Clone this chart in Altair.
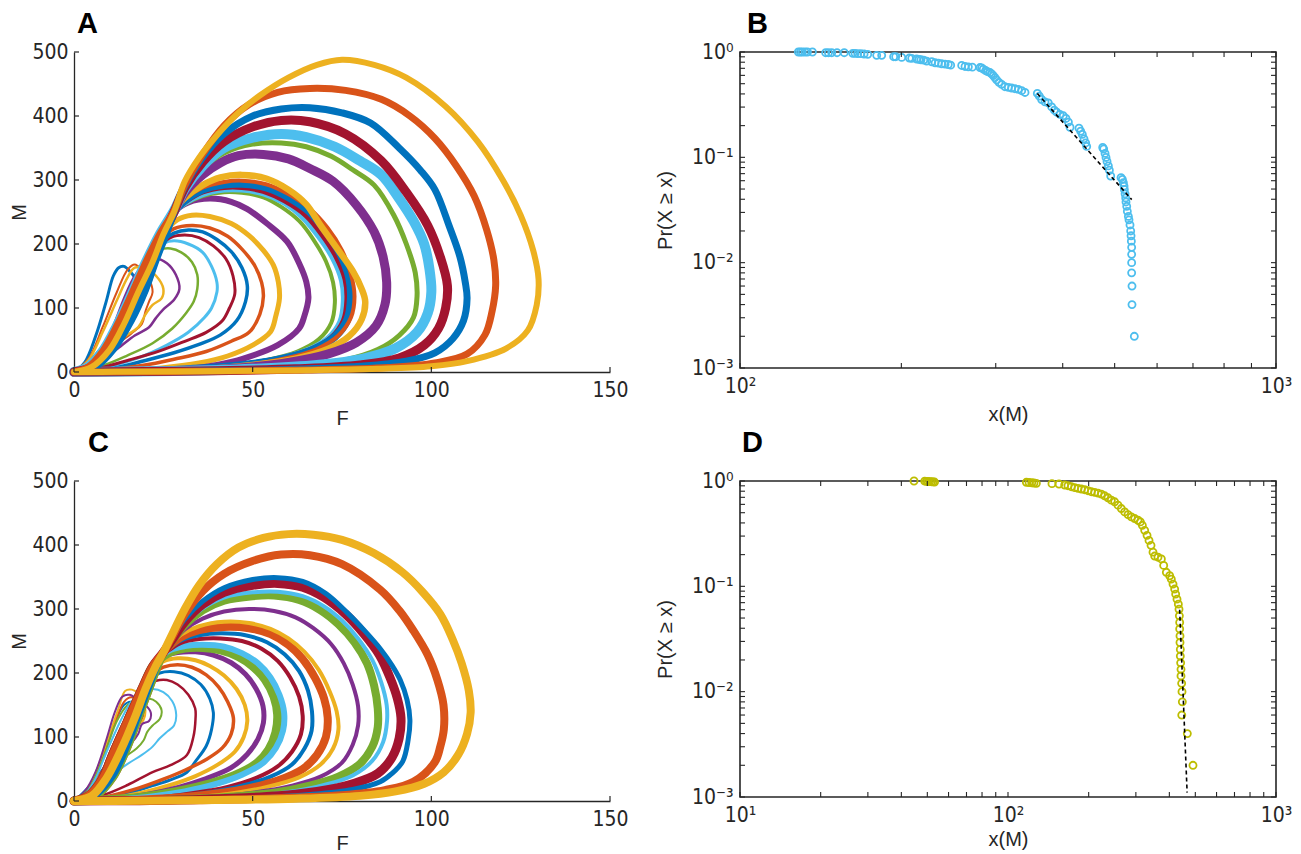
import altair as alt
import pandas as pd

BLUE = "#0072BD"; ORANGE = "#D95319"; YELLOW = "#EDB120"; PURPLE = "#7E2F8E"
GREEN = "#77AC30"; LBLUE = "#4DBEEE"; DRED = "#A2142F"
AX = "#262626"
NUM_FONT = "Liberation Sans Narrow, DejaVu Sans Condensed, Roboto, sans-serif"
TXT_FONT = "Liberation Sans, Arial, sans-serif"

# ---------------- Panel A : limit cycles (F, M), inner loops first ----------------
RB1 = [(0, 0), (4, 8), (8, 32), (12, 72), (16, 120), (20, 170), (24, 215), (28, 252)]
RB2 = [(0, 0), (5, 8), (10, 35), (14, 75), (18, 125), (22, 172), (25, 215), (28, 250)]
RB3 = [(0, 0), (6, 8), (11, 35), (16, 80), (20, 128), (23, 175), (26, 218), (28, 250)]

A_LOOPS = [
    (BLUE, 3, [(0,0),(3,15),(6,55),(9,110),(11,150),(12.5,163),(14,165),(16,155),(18,140),(20,125),(19,115),(17,110),(15,95),(12,70),(8,40),(4,15),(0,0)]),
    (ORANGE, 2, [(0,0),(4,20),(8,70),(12,125),(15,160),(17,168),(19,160),(21,145),(22,125),(21,110),(20,95),(19,75),(16,60),(11,40),(5,15),(0,0)]),
    (YELLOW, 2.5, [(0,0),(4,18),(8,62),(12,112),(15,148),(17,163),(20,162),(23,150),(25,130),(24.5,115),(22,105),(20,90),(18,70),(14,55),(10,40),(5,15),(0,0)]),
    (PURPLE, 2.5, [(0,0),(3,8),(7,32),(11,72),(14,115),(17,150),(20,170),(23,177),(26,170),(28.5,152),(29.5,130),(28,113),(25,98),(23,85),(21,70),(17,57),(13,40),(8,20),(4,7),(0,0)]),
    (GREEN, 2.5, [(0,0),(4,8),(8,32),(12,72),(15,112),(18,150),(21,180),(24,191),(27,193),(30,187),(33,172),(34.5,152),(34.5,130),(33.5,110),(31.5,93),(27.5,68),(22,45),(15,26),(8,10),(0,0)]),
    (LBLUE, 3, [(0,0),(4,8),(8,32),(12,70),(16,115),(19,155),(22,188),(25,201),(28,205),(32,200),(36,187),(38.5,165),(40,140),(40,125),(38.5,100),(36.5,85),(32,62),(26,42),(18,22),(9,8),(0,0)]),
    (DRED, 3, [(0,0),(4,8),(8,32),(12,70),(16,115),(20,160),(24,196),(27,210),(31,214),(35,210),(39,197),(42.5,177),(44.5,150),(45,122),(43.5,100),(41.5,80),(37,62),(31,48),(24,33),(15,18),(7,6),(0,0)]),
    (BLUE, 3.5, [(0,0),(4,8),(8,32),(12,70),(16,115),(20,162),(24,200),(28,217),(32,222),(36,219),(40,207),(44,188),(47,163),(48.5,135),(48,110),(45.5,80),(41,58),(35,43),(28,30),(20,18),(11,6),(0,0)]),
    (ORANGE, 3.5, [(0,0),(4,8),(8,32),(12,70),(16,115),(20,162),(24,205),(28,224),(33,229),(38,225),(43,212),(47,192),(50.5,167),(52.5,140),(53,118),(52,90),(49,62),(44,48),(37,32),(28,20),(19,10),(9,3),(0,0)]),
    (YELLOW, 5, [(0,0),(4,8),(8,32),(13,75),(17,120),(21,170),(25,215),(29,238),(33,245),(38,243),(44,232),(49,213),(53,190),(55.8,167),(57.2,140),(57.5,115),(56.5,88),(55,63),(50,42),(43,25),(35,14),(24,6),(12,1.5),(0,0)]),
    (PURPLE, 6, [(0,0),(4,8),(8,32),(13,75),(17,120),(21,170),(25,220),(28,250),(32,265),(38,271),(44,266),(48.4,255),(54,232),(59.6,204),(63,170),(65,141),(65.6,115),(64.5,88),(63,68),(57,42),(47.4,21),(40,11),(33,5.5),(20,2),(0,0)]),
    (GREEN, 4, RB2 + [(31,262),(36,275),(42,281),(47,280),(53,273),(58,258),(63,236),(67,207),(70.5,173),(72.5,140),(73,108),(72,77),(68.5,51),(62.5,32),(54,19),(42,9),(28,3),(14,1),(0,0)]),
    (LBLUE, 6, RB3 + [(31,264),(36,278),(42,285),(47,285),(53,279),(59,264),(64,242),(68.5,212),(72.5,178),(75,143),(75.5,110),(74.5,78),(71,52),(65,33),(56,19),(44,9),(29,3),(14,1),(0,0)]),
    (DRED, 6, RB1 + [(31,266),(36,282),(42,289),(47,289),(53,283),(59,268),(65,245),(69.5,215),(73.5,180),(76,145),(76.5,112),(75.5,80),(72,53),(66,34),(57,20),(45,10),(30,4),(15,1),(0,0)]),
    (BLUE, 8, RB2 + [(31,268),(36,285),(42,293),(47,294),(54,288),(60,273),(66,250),(70.5,220),(74.5,185),(77,148),(77.5,115),(76.5,82),(73,55),(67,35),(58,20),(46,10),(31,4),(15,1),(0,0)]),
    (ORANGE, 4, RB3 + [(31,270),(36,288),(42,297),(47,299),(54,293),(60,278),(66,255),(71,225),(75,190),(77.5,153),(78.5,118),(77.5,85),(74,57),(68,36),(59,21),(47,10),(32,4),(16,1),(0,0)]),
    (YELLOW, 6.5, RB1 + [(31,272),(36,292),(41,304),(47,308),(54,302),(60,285),(65,262),(69,229),(74,190),(78,158),(80.5,130),(81.5,110),(80.5,82),(77,56),(71,36),(62,21),(50,11),(35,4),(18,1),(0,0)]),
    (PURPLE, 9, RB2 + [(31,280),(36,308),(41,327),(46,338),(53,340),(60,333),(66,318),(72.5,298),(79,261),(84,219),(86.5,180),(87.5,140),(87,105),(84.5,72),(79,46),(71,28),(60,15),(45,6),(25,2),(0,0)]),
    (GREEN, 5, RB3 + [(31,284),(36,318),(42,342),(50,356),(58,358),(65,352),(72,337),(78,316),(84,292),(89.5,245),(93,200),(95.5,155),(96,118),(95,85),(91,57),(85,35),(76,19),(62,9),(42,3),(20,1),(0,0)]),
    (LBLUE, 10, RB1 + [(31,286),(36,322),(42,350),(50,366),(58,372),(65,367),(73,352),(80,330),(86,308),(91,271),(95,236),(98,200),(99.5,160),(100,125),(99,92),(96,62),(90,37),(81,21),(68,11),(50,5),(28,1.5),(0,0)]),
    (DRED, 9, RB2 + [(31,288),(36,328),(42,360),(50,383),(58,393),(66,391),(76,372),(86,330),(93,281),(99,229),(102.5,180),(104.5,135),(104,100),(102,68),(98,42),(91,22),(80,11),(62,5),(35,1.5),(0,0)]),
    (BLUE, 7, RB3 + [(31,290),(36,335),(42,372),(50,400),(58,411),(66,413),(75,405),(83,389),(91,350),(97,315),(101,285),(105,228),(108,180),(109.5,140),(110,115),(109,80),(106,52),(101,30),(93,17),(80,9),(60,4),(32,1),(0,0)]),
    (ORANGE, 7, RB1 + [(31,292),(36,340),(42,385),(49,418),(57,437),(66,443),(76,440),(86,426),(94,400),(101,365),(107,322),(112,275),(115.5,222),(117.5,175),(118,135),(117,95),(115,58),(110,28),(101,14),(88,7),(65,3),(35,1),(0,0)]),
    (YELLOW, 6, RB2 + [(31,298),(35,335),(40,370),(46,405),(52,432),(60,460),(68,480),(75,488),(84,480),(93,460),(104,415),(113,360),(120,300),(125,245),(128.5,190),(130,145),(129.5,105),(127,65),(121,37),(110,17),(100,9),(85,5),(60,2.5),(35,1),(12,0.3),(0,0)]),
]

# ---------------- Panel C : limit cycles (F, M), inner loops first ----------------
RC1 = [(0, 0), (4, 8), (8, 35), (11, 75), (15, 125), (19, 175), (22, 210), (25, 232)]
RC2 = [(0, 0), (5, 8), (9, 35), (13, 78), (17, 130), (20, 175), (23, 212), (25, 232)]
RC3 = [(0, 0), (6, 8), (11, 38), (15, 85), (18, 130), (21, 175), (23.5, 212), (25, 232)]

C_LOOPS = [
    (BLUE, 2, [(0,0),(3,12),(6,40),(9,85),(12,130),(14,150),(16,155),(17.5,145),(18,132),(16.5,120),(14,100),(11,75),(8,50),(4,22),(0,0)]),
    (ORANGE, 2, [(0,0),(3,12),(6,40),(9,85),(12,130),(14,155),(16,162),(18,155),(19.5,140),(19,128),(17,118),(15,100),(12,80),(9,55),(5,28),(2,8),(0,0)]),
    (YELLOW, 2, [(5,30),(7.5,65),(10,105),(12.5,145),(14.3,172),(16.2,174),(18,168),(19.5,155),(20,140),(19.5,127),(18,118),(16.5,105),(14.5,88),(12,70),(9,50),(6,28),(3,10),(0,0)]),
    (PURPLE, 2, [(0,0),(3,15),(6,45),(9,95),(11.5,140),(13.5,163),(15.5,166),(18,158),(20,150),(21.5,138),(21,125),(19,120),(18,105),(16,90),(13,75),(10,55),(6,30),(3,12),(0,0)]),
    (GREEN, 2, [(0,0),(3,10),(6,38),(9,80),(12,125),(15,150),(18,158),(21,160),(23,155),(24.5,142),(24,128),(22,118),(20.5,108),(19.5,95),(17.5,82),(14.5,70),(11,55),(7,35),(3,12),(0,0)]),
    (LBLUE, 2, [(0,0),(3,10),(6,35),(9,75),(13,125),(16,155),(19,170),(22,175),(25,170),(27.5,156),(28.6,135),(28,118),(26,108),(24,98),(22,85),(19,72),(15,58),(10,38),(5,15),(0,0)]),
    (DRED, 2.5, [(0,0),(4,10),(7,35),(10,75),(14,125),(17,160),(20,180),(23,188),(26,189),(29,182),(32,166),(33.9,145),(34,128),(33.4,100),(31.6,72),(27,56),(22,45),(15,25),(8,9),(0,0)]),
    (BLUE, 3, [(0,0),(4,8),(8,35),(11,75),(15,125),(18,165),(21,190),(24,200),(28,202),(32,196),(35.5,182),(38,160),(39,138),(38.5,112),(37,86),(34,62),(31.6,45),(27,33),(22,24),(13,9),(6,3),(0,0)]),
    (ORANGE, 3.5, [(0,0),(4,8),(8,35),(11,75),(15,125),(19,172),(22,198),(25,209),(29,213),(33,209),(37,197),(40.5,178),(43,155),(44.6,130),(44,105),(41.5,83),(37,65),(31,48),(25,34),(18,20),(10,8),(0,0)]),
    (YELLOW, 4, [(0,0),(4,8),(8,35),(11,75),(15,125),(19,175),(22,205),(25,218),(29,223),(34,220),(38,211),(42,196),(45.5,175),(47.8,150),(48.5,125),(47.5,100),(45,77),(40,56),(34,39),(27,25),(19,13),(10,4),(0,0)]),
    (PURPLE, 5, [(0,0),(4,8),(8,35),(11,75),(15,125),(19,175),(22,208),(25,225),(29,232),(34,233),(39,228),(44,216),(48,198),(51,175),(52.9,148),(53,122),(51.5,97),(48.5,73),(44,52),(37,35),(29,21),(20,10),(10,3),(0,0)]),
    (GREEN, 9, RC1[:-1] + [(24,222),(27,233),(31,239),(36,240),(41,236),(46,226),(50,211),(53.5,190),(56,163),(57,135),(56.5,107),(54.5,80),(51,58),(45,40),(38,27),(29,15),(19,6),(8,1.5),(0,0)]),
    (LBLUE, 6, RC3[:-1] + [(24,222),(27,236),(31,242),(36,244),(42,241),(47,231),(51.5,215),(55,193),(57.5,166),(58.8,138),(58.5,110),(56.5,83),(53,60),(47,41),(40,27),(31,15),(20,6),(9,1.5),(0,0)]),
    (DRED, 4, RC2 + [(26,234),(30,247),(35,253),(41,254),(47,250),(52.5,238),(57,219),(60.5,193),(63,163),(64,133),(63.5,104),(61,77),(57,54),(51,36),(43,22),(33,12),(21,4),(9,1),(0,0)]),
    (BLUE, 4, RC1 + [(26,236),(30,251),(35,259),(41,262),(48,259),(54,248),(59,229),(63,203),(65.5,172),(66.6,140),(66.5,110),(64.5,82),(61,57),(55,38),(47,24),(37,13),(24,5),(11,1),(0,0)]),
    (ORANGE, 8, RC3 + [(26,238),(30,256),(35,267),(42,272),(49,270),(55,261),(60,244),(64,222),(67.5,192),(70,160),(71,130),(70.5,100),(68,72),(64,50),(57,32),(48,19),(36,9),(22,3),(10,0.5),(0,0)]),
    (YELLOW, 4, RC2 + [(26,240),(30,260),(35,273),(42,280),(49,278),(55,269),(60,254),(64.5,233),(68.5,205),(71.5,172),(73.5,140),(74,112),(72.5,82),(69,57),(63,37),(54,22),(43,11),(29,4),(14,1),(0,0)]),
    (PURPLE, 4, RC1 + [(27,244),(31,268),(36,285),(42,296),(49,300),(56,297),(62,287),(67,270),(72,245),(75.5,215),(78,182),(79.5,148),(79.5,118),(78,88),(75,60),(69,38),(61,24),(50,13),(36,5),(20,1.5),(0,0)]),
    (GREEN, 8, RC3 + [(27,246),(31,275),(36,298),(42,313),(50,320),(56,321),(63,314),(69,298),(74,276),(78.5,248),(82,215),(84,180),(85,145),(85,115),(83.5,85),(80,58),(74,38),(66,24),(56,13),(42,6),(26,2),(10,0.3),(0,0)]),
    (LBLUE, 4, RC2 + [(27,247),(31,277),(36,301),(42,318),(50,326),(57,327),(64,320),(70,304),(75,282),(79.5,254),(83.5,220),(86,185),(87.5,150),(87.6,125),(86.5,92),(83.5,63),(78,40),(70,25),(60,14),(46,6),(28,2),(12,0.3),(0,0)]),
    (DRED, 9, RC1 + [(27,248),(31,280),(36,307),(42,326),(50,337),(57,340),(64,334),(70,318),(76,292),(81,262),(85.5,228),(88.5,192),(90.5,160),(91.5,130),(91,98),(89,68),(85,43),(78,27),(68,15),(54,7),(35,2.5),(15,0.5),(0,0)]),
    (BLUE, 5, RC3 + [(27,250),(31,284),(36,312),(42,333),(50,346),(57,349),(64,343),(70.5,324),(76.5,294),(81.5,265),(85.7,238),(89,212),(91.3,189),(93.2,158),(94,127),(93.5,95),(92,62),(89,43),(85.7,30),(78,18),(66,10),(48,4),(25,1),(0,0)]),
    (ORANGE, 8, RC1 + [(27,252),(31,292),(36,328),(42,355),(50,375),(58,385),(66,384),(75,370),(85.7,330),(91,298),(95,266),(99,228),(101.7,189),(103.4,150),(103.5,112),(102.5,85),(101,61),(95,30),(87,17),(75,9),(55,4),(30,1),(0,0)]),
    (YELLOW, 8, RC2 + [(27,255),(31,300),(35,337),(40,370),(46,396),(53,411),(60,417),(67,416),(75,408),(84,387),(92,357),(97.5,327),(102.5,292),(106,252),(108.5,215),(110.5,172),(111,138),(110,105),(107.5,72),(103.5,45),(98,27),(90,15),(80,8),(62,3.5),(40,1.5),(18,0.3),(0,0)]),
]

PHASE_X_TICKS = [0, 50, 100, 150]
PHASE_Y_TICKS = [0, 100, 200, 300, 400, 500]

# ---------------- Panel B : CCDF of M (model 1) ----------------
B_X = [128.5, 129.6, 130.7, 132.2, 133.6, 136.5,
       144.5, 146.2, 148.3, 151.7, 156.5,
       162.3, 163.9, 165.8, 168.0, 170.4, 173.1,
       179.9, 183.8,
       193.5, 195.2, 200.3, 207.0, 209.1,
       213.6, 215.8, 217.6, 220.2, 223.0,
       227.9, 231.2, 234.4, 237.8, 241.3, 244.7, 247.2,
       259.2, 262.9, 266.7, 271.3,
       280.4, 282.4, 284.4, 287.3, 289.7, 292.7, 294.8, 296.9, 299.0, 301.2, 304.2, 307.7,
       312.1, 316.7, 321.2, 325.9, 330.6, 335.4, 340.2,
       358.7, 361.8, 365.4, 370.7, 376.0, 381.5, 385.9, 389.8, 395.4, 401.1, 405.7, 409.9, 412.8,
       429.0, 432.1, 435.2, 438.3, 441.5, 443.4,
       475.0, 477.0, 479.8, 481.8, 483.9, 486.7, 488.8, 491.6,
       513.9, 516.9, 519.1, 520.6, 521.3, 522.9, 524.3, 525.0, 526.6, 528.0, 530.4, 531.8,
       534.1, 535.7, 536.5, 537.2, 537.9, 537.9, 537.9, 537.9, 538.7, 538.7, 544.1]
B_P = [1.0, 1.0, 1.0, 1.0, 1.0, 1.0,
       0.985, 0.985, 0.985, 0.985, 0.985,
       0.971, 0.971, 0.964, 0.964, 0.957, 0.950,
       0.929, 0.929,
       0.902, 0.902, 0.889, 0.876, 0.870,
       0.857, 0.850, 0.844, 0.838, 0.820,
       0.808, 0.790, 0.784, 0.773, 0.767, 0.761, 0.750,
       0.745, 0.729, 0.723, 0.718,
       0.712, 0.707, 0.687, 0.667, 0.652, 0.638, 0.620, 0.597, 0.571, 0.543, 0.515, 0.493,
       0.468, 0.461, 0.455, 0.448, 0.442, 0.429, 0.413,
       0.404, 0.381, 0.354, 0.336, 0.329, 0.301, 0.280, 0.268, 0.256, 0.248, 0.234, 0.216, 0.193,
       0.189, 0.177, 0.165, 0.150, 0.137, 0.127,
       0.124, 0.120, 0.109, 0.0997, 0.0913, 0.0829, 0.0754, 0.0665,
       0.0641, 0.0618, 0.0574, 0.0533, 0.0495, 0.0450, 0.0412, 0.0377, 0.0343, 0.0307, 0.0275, 0.0255,
       0.0228, 0.020, 0.018, 0.016, 0.014, 0.012, 0.010, 0.008, 0.006, 0.004, 0.002]
B_FIT_X = [358.7, 538.0]
B_FIT_P = [0.404, 0.0397]

# ---------------- Panel D : CCDF of M (model 2) ----------------
D_X = [44.6, 48.9, 49.6, 50.3, 51.0, 51.8, 52.5, 53.2,
       117.1, 119.8, 122.6, 125.0, 127.6, 145.9, 155.0,
       162.7, 167.4, 172.3, 177.4, 182.5, 187.8, 193.2, 198.8, 204.6, 210.6, 216.7, 223.0,
       229.5, 236.1, 243.0, 250.0, 257.3, 264.8, 272.5, 280.4, 288.6, 297.0, 305.6, 311.8,
       317.2, 323.6, 330.2, 335.9, 341.7, 347.6, 352.6, 362.8, 373.4, 381.0, 389.8, 401.1,
       406.8, 412.8, 418.7, 422.3, 427.2, 432.1, 434.6, 435.9, 437.1, 437.1, 438.3, 438.3,
       439.5, 439.5, 440.8, 442.1, 442.1, 444.6, 445.9, 447.2, 445.0, 466.8, 490.1]
D_P = [1.0, 0.996, 0.993, 0.990, 0.987, 0.984, 0.981, 0.978,
       0.972, 0.967, 0.962, 0.957, 0.950, 0.943, 0.936,
       0.916, 0.902, 0.883, 0.864, 0.851, 0.839, 0.827, 0.809, 0.791, 0.779, 0.768, 0.751,
       0.724, 0.693, 0.658, 0.635, 0.590, 0.548, 0.509, 0.480, 0.456, 0.440, 0.424, 0.409,
       0.380, 0.340, 0.305, 0.273, 0.245, 0.211, 0.194, 0.189, 0.182, 0.158, 0.136, 0.126,
       0.117, 0.105, 0.0943, 0.0844, 0.0756, 0.0677, 0.0606, 0.0525, 0.0454, 0.0394, 0.0338, 0.0293,
       0.0252, 0.0218, 0.0188, 0.0163, 0.0141, 0.012, 0.010, 0.008, 0.006, 0.004, 0.002]
D_FIT_X = [437.0, 466.0]
D_FIT_P = [0.060, 0.0011]

P_MAJOR = [0.001, 0.01, 0.1, 1]
P_MINOR = [0.002, 0.003, 0.004, 0.005, 0.006, 0.007, 0.008, 0.009,
           0.02, 0.03, 0.04, 0.05, 0.06, 0.07, 0.08, 0.09,
           0.2, 0.3, 0.4, 0.5, 0.6, 0.7, 0.8, 0.9]
B_XMAJOR = [100, 1000]
B_XMINOR = [200, 300, 400, 500, 600, 700, 800, 900]
D_XMAJOR = [10, 100, 1000]
D_XMINOR = [20, 30, 40, 50, 60, 70, 80, 90, 200, 300, 400, 500, 600, 700, 800, 900]

PW = 536  # plot width (all panels)


def letter_title(txt, dx, offset):
    return alt.TitleParams(text=txt, anchor="start", frame="group", fontSize=29,
                           fontWeight="bold", font=TXT_FONT, color="black",
                           offset=offset, dx=dx)


def loops_df(loops):
    rows = []
    for i, (col, w, pts) in enumerate(loops):
        for j, (f, m) in enumerate(pts):
            rows.append({"loop": f"L{i:02d}", "seq": j, "F": f, "M": m, "col": col, "w": w})
    return pd.DataFrame(rows)


def phase_panel(loops, letter, dx, offset, H, xtitle_pad):
    xs = alt.Scale(domain=[0, 150], nice=False, zero=False)
    ys = alt.Scale(domain=[0, 500], nice=False, zero=False)
    xax = alt.Axis(values=PHASE_X_TICKS, title="F", domain=True, labelPadding=7, titlePadding=xtitle_pad)
    yax = alt.Axis(values=PHASE_Y_TICKS, title="M", domain=True, labelPadding=6, titlePadding=2)
    lines = alt.Chart(loops_df(loops)).mark_line(
        interpolate="catmull-rom", strokeJoin="round", strokeCap="round"
    ).encode(
        x=alt.X("F:Q", scale=xs, axis=xax),
        y=alt.Y("M:Q", scale=ys, axis=yax),
        detail="loop:N",
        color=alt.Color("col:N", scale=None),
        strokeWidth=alt.StrokeWidth("w:Q", scale=None),
        order="seq:Q",
    )
    xt = alt.Chart(pd.DataFrame({"F": PHASE_X_TICKS})).mark_rule(color=AX, strokeWidth=1.2).encode(
        x=alt.X("F:Q", scale=xs, axis=xax), y=alt.value(H), y2=alt.value(H - 5))
    yt = alt.Chart(pd.DataFrame({"M": PHASE_Y_TICKS})).mark_rule(color=AX, strokeWidth=1.2).encode(
        y=alt.Y("M:Q", scale=ys, axis=yax), x=alt.value(0), x2=alt.value(5))
    return alt.layer(lines, xt, yt).properties(
        width=PW, height=H, title=letter_title(letter, dx, offset),
        view=alt.ViewBackground(stroke=None))


def ccdf_panel(xv, pv, color, fx, fp, xdom, xmajor, xminor, xlabel_expr, letter, dx, offset, H, xtitle_pad):
    xsc = alt.Scale(type="log", domain=xdom, nice=False)
    ysc = alt.Scale(type="log", domain=[0.001, 1], nice=False)
    pexpr = ("datum.value > 0.5 ? '10\u2070' : datum.value > 0.05 ? '10\u207b\u00b9' : "
             "datum.value > 0.005 ? '10\u207b\u00b2' : '10\u207b\u00b3'")
    xax = alt.Axis(values=xmajor, labelExpr=xlabel_expr, title="x(M)",
                   domain=False, labelPadding=7, titlePadding=xtitle_pad)
    yax = alt.Axis(values=P_MAJOR, labelExpr=pexpr, title="Pr(X \u2265 x)",
                   domain=False, labelPadding=7, titlePadding=16)
    pts = alt.Chart(pd.DataFrame({"x": xv, "p": pv})).mark_point(
        shape="circle", filled=False, size=50, strokeWidth=1.8, color=color, opacity=1
    ).encode(x=alt.X("x:Q", scale=xsc, axis=xax), y=alt.Y("p:Q", scale=ysc, axis=yax))
    fit = alt.Chart(pd.DataFrame({"x": fx, "p": fp})).mark_line(
        color="black", strokeDash=[4, 3], strokeWidth=1.6
    ).encode(x=alt.X("x:Q", scale=xsc, axis=xax), y=alt.Y("p:Q", scale=ysc, axis=yax))
    allx = pd.DataFrame({"x": xmajor + xminor})
    allp = pd.DataFrame({"p": P_MAJOR + P_MINOR})
    tb = alt.Chart(allx).mark_rule(color=AX, strokeWidth=1.1).encode(
        x=alt.X("x:Q", scale=xsc, axis=xax), y=alt.value(H), y2=alt.value(H - 5))
    tt = alt.Chart(allx).mark_rule(color=AX, strokeWidth=1.1).encode(
        x=alt.X("x:Q", scale=xsc, axis=xax), y=alt.value(0), y2=alt.value(5))
    tl = alt.Chart(allp).mark_rule(color=AX, strokeWidth=1.1).encode(
        y=alt.Y("p:Q", scale=ysc, axis=yax), x=alt.value(0), x2=alt.value(5))
    tr = alt.Chart(allp).mark_rule(color=AX, strokeWidth=1.1).encode(
        y=alt.Y("p:Q", scale=ysc, axis=yax), x=alt.value(PW), x2=alt.value(PW - 5))
    return alt.layer(pts, fit, tb, tt, tl, tr).properties(
        width=PW, height=H, title=letter_title(letter, dx, offset),
        view=alt.ViewBackground(stroke=AX, strokeWidth=1.6))


B_XLAB = "datum.value >= 999 ? '10\u00b3' : '10\u00b2'"
D_XLAB = "datum.value >= 999 ? '10\u00b3' : datum.value >= 99 ? '10\u00b2' : '10\u00b9'"

pA = phase_panel(A_LOOPS, "A", 3, 2, 320, 8)
pB = ccdf_panel(B_X, B_P, LBLUE, B_FIT_X, B_FIT_P, [100, 1000], B_XMAJOR, B_XMINOR, B_XLAB, "B", 7, 2, 316, 8)
pC = phase_panel(C_LOOPS, "C", 14, 12, 320, 4)
pD = ccdf_panel(D_X, D_P, "#BDBD00", D_FIT_X, D_FIT_P, [10, 1000], D_XMAJOR, D_XMINOR, D_XLAB, "D", 2, 12, 316, 4)

chart = alt.vconcat(
    alt.hconcat(pA, pB, spacing=25),
    alt.hconcat(pC, pD, spacing=25),
    spacing=0,
).properties(
    padding={"left": 1, "top": 1, "right": 0, "bottom": 0}
).configure_axis(
    labelFont=NUM_FONT, labelFontSize=21, labelColor=AX,
    titleFont=TXT_FONT, titleFontSize=20, titleFontWeight="normal", titleColor=AX,
    domainColor=AX, domainWidth=1.3, ticks=False, grid=False,
    labelFlush=False, labelOverlap=False,
).configure_view(stroke=None)

chart.save("out.html", embed_options={"renderer": "svg", "actions": False})
